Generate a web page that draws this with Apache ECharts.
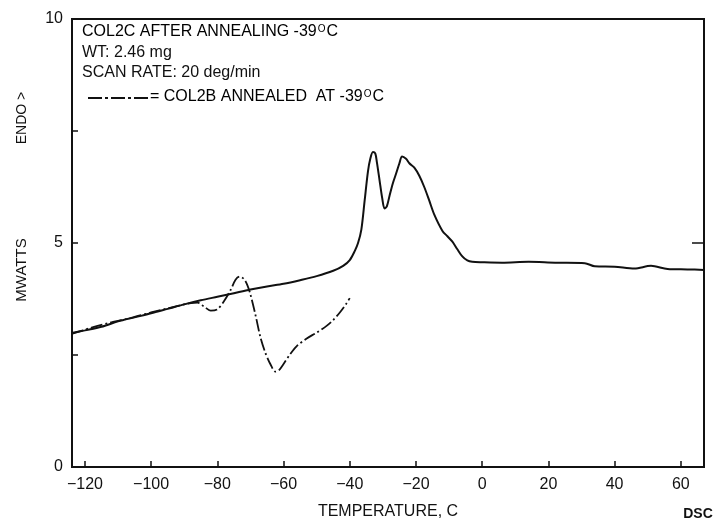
<!DOCTYPE html>
<html>
<head>
<meta charset="utf-8">
<script src="https://cdn.jsdelivr.net/npm/echarts@6/dist/echarts.min.js"></script>
<style>
html,body{margin:0;padding:0;background:#fff;}
#chart{width:714px;height:525px;}
</style>
</head>
<body>
<div id="chart"></div>
<script>
// Solid curve: COL2C after annealing -39C  [temperature C, mW]
var solidTemps = [-124,-120,-115,-110,-105,-100,-95,-90,-85,-80,-75,-70,-65,-60,-55,-50,-45,-42,-40,-38.5,-37.5,-36.5,-35.5,-34.5,-33.8,-33,-32.3,-31.8,-31,-30.2,-29.5,-28.8,-28,-27,-26,-25,-24.2,-23,-22,-20.5,-19,-17.5,-16,-14.5,-12,-10.5,-9,-7.5,-6,-4.5,-3,0,6,14,22,31,34,40,46,51,56,62,67];
var solidValues = [2.99,3.05,3.13,3.25,3.34,3.43,3.53,3.63,3.72,3.80,3.88,3.96,4.03,4.09,4.17,4.26,4.38,4.49,4.62,4.82,5.00,5.30,5.95,6.60,6.88,7.03,7.00,6.80,6.40,6.00,5.77,5.82,6.05,6.33,6.55,6.78,6.93,6.88,6.78,6.68,6.50,6.25,5.95,5.64,5.27,5.15,5.03,4.86,4.70,4.61,4.58,4.57,4.56,4.58,4.56,4.55,4.48,4.47,4.43,4.49,4.42,4.41,4.40];
// Dash-dot curve: COL2B annealed at -39C
var dashTemps = [-124,-118,-112,-106,-100,-94,-88,-86,-84,-82,-80,-78,-76,-74.5,-73.3,-72,-71,-70,-68.5,-67,-65.5,-64,-62.5,-61.5,-60,-58,-56,-53,-50,-47,-45,-43,-41,-40];
var dashValues = [2.97,3.11,3.23,3.33,3.45,3.56,3.66,3.67,3.58,3.49,3.52,3.70,3.95,4.18,4.25,4.20,4.07,3.85,3.40,2.90,2.55,2.30,2.13,2.15,2.30,2.52,2.70,2.87,3.00,3.15,3.28,3.45,3.65,3.77];
var xTickValues = [-120,-100,-80,-60,-40,-20,0,20,40,60];
var yTickValues = [2.5,5,7.5];
var yLabelValues = [0,5,10];

function pairs(xs, ys){ return xs.map(function(x,i){ return [x, ys[i]]; }); }

var FONT = 'Liberation Sans, Arial, sans-serif';
var INK = '#111';
var chart = echarts.init(document.getElementById('chart'));
var sup = {
  a: {fontSize: 16, fontFamily: FONT, color: INK},
  s: {fontSize: 10, fontFamily: FONT, color: INK, verticalAlign: 'top', padding: [0,1,0,1]}
};
chart.setOption({
  animation: false,
  backgroundColor: '#fff',
  grid: {left: 72, right: 10, top: 19, bottom: 58, show: true, borderColor: INK, borderWidth: 2, backgroundColor: 'transparent'},
  xAxis: {
    type: 'value', min: -123.9, max: 67,
    splitLine: {show: false},
    axisLine: {show: false, onZero: false},
    axisTick: {show: true, inside: true, length: 6, customValues: xTickValues, lineStyle: {color: INK, width: 1.5}},
    axisLabel: {customValues: xTickValues, color: INK, fontSize: 16, fontFamily: FONT, margin: 10,
      formatter: function(v){ return v < 0 ? '\u2212' + Math.abs(v) : String(v); }},
    name: 'TEMPERATURE, C', nameLocation: 'middle', nameGap: 37,
    nameTextStyle: {color: INK, fontSize: 16, fontFamily: FONT}
  },
  yAxis: [{
    type: 'value', min: 0, max: 10,
    splitLine: {show: false},
    axisLine: {show: false, onZero: false},
    axisTick: {show: true, inside: true, length: 6, customValues: yTickValues, lineStyle: {color: INK, width: 1.5}},
    axisLabel: {customValues: yLabelValues, color: INK, fontSize: 16, fontFamily: FONT, margin: 9}
  },{
    type: 'value', min: 0, max: 10, position: 'right',
    splitLine: {show: false},
    axisLine: {show: false, onZero: false},
    axisTick: {show: true, inside: true, length: 12, customValues: [5], lineStyle: {color: INK, width: 1.5}},
    axisLabel: {show: false}
  }],
  series: [{
    type: 'line', name: 'COL2C', data: pairs(solidTemps, solidValues),
    showSymbol: false, smooth: 0.3,
    lineStyle: {color: INK, width: 2}
  },{
    type: 'line', name: 'COL2B', data: pairs(dashTemps, dashValues),
    showSymbol: false, smooth: 0.3,
    lineStyle: {color: INK, width: 1.8, type: [12,3,2,3]}
  }],
  graphic: [
    {type: 'text', left: 82, top: 24, style: {text: '{a|COL2C AFTER ANNEALING -39}{s|O}{a|C}', rich: sup}},
    {type: 'text', left: 82, top: 45, style: {text: 'WT: 2.46 mg', fontSize: 16, fontFamily: FONT, fill: INK}},
    {type: 'text', left: 82, top: 65, style: {text: 'SCAN RATE: 20 deg/min', fontSize: 16, fontFamily: FONT, fill: INK}},
    {type: 'line', shape: {x1: 88, y1: 98, x2: 148, y2: 98}, style: {stroke: INK, lineWidth: 1.8, lineDash: [14,3,3,3]}},
    {type: 'text', left: 150, top: 89, style: {text: '{a|= COL2B ANNEALED  AT -39}{s|O}{a|C}', rich: sup}},
    {type: 'text', x: 22, y: 270, rotation: Math.PI/2, style: {text: 'MWATTS', fontSize: 15, fontFamily: FONT, fill: INK, align: 'center', verticalAlign: 'middle'}},
    {type: 'text', x: 22, y: 118, rotation: Math.PI/2, style: {text: 'ENDO >', fontSize: 14, fontFamily: FONT, fill: INK, align: 'center', verticalAlign: 'middle'}},
    {type: 'text', x: 698, y: 514, style: {text: 'DSC', fontSize: 14, fontWeight: 'bold', fontFamily: FONT, fill: INK, align: 'center', verticalAlign: 'middle'}}
  ]
});
</script>
</body>
</html>
